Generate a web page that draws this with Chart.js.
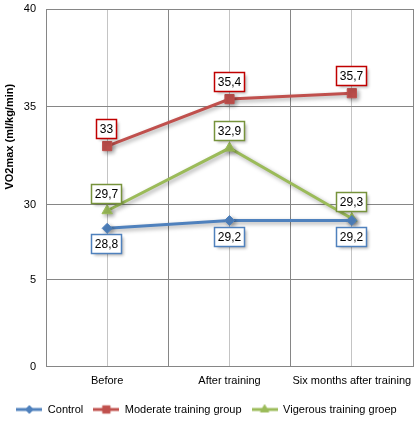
<!DOCTYPE html>
<html>
<head>
<meta charset="utf-8">
<script src="https://cdn.jsdelivr.net/npm/chart.js@4/dist/chart.umd.min.js"></script>
<style>
  html, body { margin: 0; padding: 0; background: #fff; }
</style>
</head>
<body>
<canvas id="vo2Chart" width="417" height="425"></canvas>
<script>
// VO2max per group
const categories = ['Before', 'After training', 'Six months after training'];
const seriesNames = ['Control', 'Moderate training group', 'Vigerous training groep'];
const controlValues = [28.8, 29.2, 29.2];
const moderateValues = [33, 35.4, 35.7];
const vigorousValues = [29.7, 32.9, 29.3];
// the original axis is "broken": the two lowest ticks sit where these values fall
const yTickValues = [21.73, 26.17, 30, 35, 40];
const yTickLabels = ['0', '5', '30', '35', '40'];
const xGridValues = [-0.5, 0, 0.5, 1, 1.5, 2, 2.5];

const colors = ['#4F81BD', '#C0504D', '#9BBB59'];
const labelBorders = ['#4F81BD', '#C00000', '#77933C'];
const markers = ['rectRot', 'rect', 'triangle'];
const markerSizes = [5, 6.5, 6];
const FONT = '"Liberation Sans", Arial, sans-serif';

function toPoints(values) {
  return values.map((v, i) => ({ x: i, y: v }));
}

// small line+marker icons for the legend
function makeLegendIcon(color, style, radius) {
  const c = document.createElement('canvas');
  c.width = 26; c.height = 12;
  const g = c.getContext('2d');
  g.strokeStyle = color;
  g.lineWidth = 3;
  g.beginPath(); g.moveTo(0, 6); g.lineTo(26, 6); g.stroke();
  g.fillStyle = color;
  g.lineWidth = 1;
  Chart.helpers.drawPoint(g, { pointStyle: style, radius: radius * 0.8, borderWidth: 1 }, 13, 6);
  return c;
}
const legendIcons = colors.map((c, i) => makeLegendIcon(c, markers[i], markerSizes[i]));

// soft drop shadow under lines and markers (like the Excel original)
const shadowPlugin = {
  id: 'shadow',
  beforeDatasetDraw(chart) {
    const ctx = chart.ctx;
    ctx.save();
    ctx.shadowColor = 'rgba(0,0,0,0.35)';
    ctx.shadowBlur = 4;
    ctx.shadowOffsetX = 2;
    ctx.shadowOffsetY = 2;
  },
  afterDatasetDraw(chart) {
    chart.ctx.restore();
  }
};

// boxed value labels
const valueLabels = {
  id: 'valueLabels',
  afterDatasetsDraw(chart) {
    const ctx = chart.ctx;
    ctx.save();
    ctx.font = '12px ' + FONT;
    ctx.textAlign = 'center';
    ctx.textBaseline = 'middle';
    chart.data.datasets.forEach((ds, di) => {
      const meta = chart.getDatasetMeta(di);
      meta.data.forEach((pt, i) => {
        const txt = String(ds.data[i].y).replace('.', ',');
        const w = Math.round(ctx.measureText(txt).width + 7);
        const h = 19;
        const cx = Math.round(pt.x) - 1;
        const cy = ds.labelBelow ? pt.y + 6 + h / 2 : pt.y - 8 - h / 2;
        const x0 = Math.round(cx - w / 2) + 0.5;
        const y0 = Math.round(cy - h / 2) + 0.5;
        ctx.save();
        ctx.shadowColor = 'rgba(0,0,0,0.3)';
        ctx.shadowBlur = 3;
        ctx.shadowOffsetX = 2;
        ctx.shadowOffsetY = 2;
        ctx.fillStyle = '#fff';
        ctx.fillRect(x0, y0, w, h);
        ctx.restore();
        ctx.strokeStyle = labelBorders[di];
        ctx.lineWidth = 1.5;
        ctx.strokeRect(x0, y0, w, h);
        ctx.fillStyle = '#000';
        ctx.fillText(txt, x0 + w / 2, y0 + h / 2 + 0.5);
      });
    });
    ctx.restore();
  }
};

// y axis title, placed where the original has it (above centre)
const yTitle = {
  id: 'yTitle',
  afterDraw(chart) {
    const ctx = chart.ctx;
    const area = chart.chartArea;
    ctx.save();
    ctx.translate(10, area.top + area.height * 0.357);
    ctx.rotate(-Math.PI / 2);
    ctx.font = 'bold 11px ' + FONT;
    ctx.fillStyle = '#000';
    ctx.textAlign = 'center';
    ctx.textBaseline = 'middle';
    ctx.fillText('VO2max (ml/kg/min)', 0, 0);
    ctx.restore();
  }
};

const seriesValues = [controlValues, moderateValues, vigorousValues];

new Chart(document.getElementById('vo2Chart'), {
  type: 'line',
  data: {
    datasets: seriesValues.map((vals, i) => ({
      label: seriesNames[i],
      data: toPoints(vals),
      borderColor: colors[i],
      backgroundColor: colors[i],
      borderWidth: 3,
      pointStyle: markers[i],
      pointRadius: markerSizes[i],
      pointBorderWidth: 1,
      tension: 0,
      labelBelow: i === 0
    }))
  },
  options: {
    responsive: false,
    animation: false,
    layout: { autoPadding: false, padding: { left: 0, right: 4, top: 0, bottom: 0 } },
    plugins: {
      tooltip: { enabled: false },
      legend: {
        position: 'bottom',
        labels: {
          usePointStyle: true,
          pointStyleWidth: 26,
          padding: 10,
          color: '#000',
          font: { family: FONT, size: 11 },
          generateLabels(chart) {
            return Chart.defaults.plugins.legend.labels.generateLabels(chart)
              .map((l, i) => Object.assign(l, { pointStyle: legendIcons[i] }));
          }
        }
      }
    },
    scales: {
      x: {
        type: 'linear',
        min: -0.5,
        max: 2.5,
        afterBuildTicks(scale) {
          scale.ticks = xGridValues.map(v => ({ value: v }));
        },
        afterFit(scale) {
          scale.paddingLeft = 0;
          scale.paddingRight = 0;
          scale.height -= 2;
        },
        ticks: {
          autoSkip: false,
          maxRotation: 0,
          padding: 8,
          color: '#000',
          font: { family: FONT, size: 11 },
          callback: v => Number.isInteger(v) ? categories[v] : ''
        },
        grid: {
          drawTicks: false,
          color: ctx => (ctx.tick && Number.isInteger(ctx.tick.value) ? '#c4c4c4' : '#868686')
        },
        border: { color: '#868686' }
      },
      y: {
        min: yTickValues[0],
        max: yTickValues[yTickValues.length - 1],
        afterBuildTicks(scale) {
          scale.ticks = yTickValues.map(v => ({ value: v }));
        },
        afterFit(scale) {
          scale.width = 46;
          scale.paddingTop = 9;
          scale.paddingBottom = 0;
        },
        ticks: {
          padding: 10,
          color: '#000',
          font: { family: FONT, size: 11 },
          callback: (v, i) => yTickLabels[i]
        },
        grid: { drawTicks: false, color: '#868686' },
        border: { color: '#868686' }
      }
    }
  },
  plugins: [shadowPlugin, valueLabels, yTitle]
});
</script>
</body>
</html>
